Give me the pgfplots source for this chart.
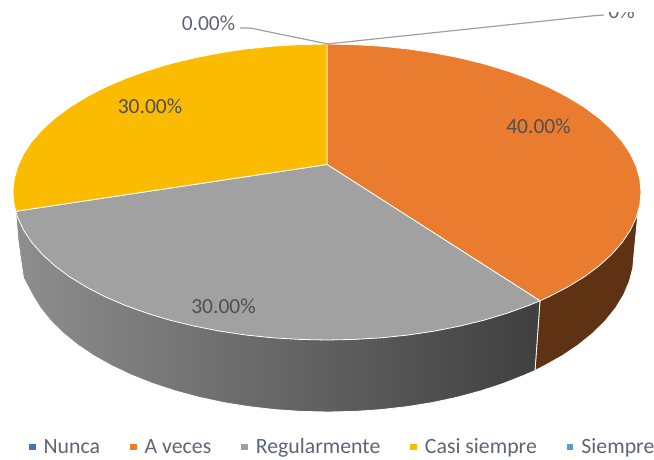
\documentclass[border=0pt]{standalone}
\usepackage{pgfplots}
\pgfplotsset{compat=1.18}
\usepackage{fontspec}
\setmainfont{Carlito}
\definecolor{cOr}{HTML}{EA7C30}
\definecolor{cGr}{HTML}{A1A1A1}
\definecolor{cYe}{HTML}{FBBB00}
\definecolor{cBr}{HTML}{5E3213}
\definecolor{cBl}{HTML}{4472C4}
\definecolor{cSk}{HTML}{5B9BD5}
\definecolor{cTx}{HTML}{505050}
\definecolor{cLg}{HTML}{5D6673}
\definecolor{cLd}{HTML}{A0A0A0}
\definecolor{gL}{HTML}{8E8E8E}
\definecolor{gM}{HTML}{626262}
\definecolor{gR}{HTML}{3F3F3F}
\begin{document}
\begin{tikzpicture}
\useasboundingbox (0,0) rectangle (654pt,459pt);
\begin{axis}[
  at={(0,0)}, anchor=south west,
  scale only axis, width=654pt, height=459pt,
  xmin=0, xmax=654, ymin=0, ymax=459, y dir=reverse,
  hide axis, no markers,
  clip=false,
  legend columns=5,
  legend cell align=left,
  legend style={at={(axis cs:29,447)}, anchor=west, draw=none, fill=none,
    inner sep=0pt, outer sep=0pt,
    font=\fontsize{21.8}{25}\selectfont\color{cLg},
    /tikz/every odd column/.style={column sep=6pt},
    /tikz/every even column/.style={column sep=28pt}},
  legend image code/.code={\path[draw=none,#1] (0pt,-3.4pt) rectangle (6.6pt,3.4pt);},
]
% side walls
\addplot[forget plot, draw=white, line width=0.8pt, fill=cBr]
 coordinates {(540,300.8)(638,212.6)(634,254)(632.8,267.8)(629.3,281.4)(623.6,294.9)(615.6,308)(605.3,320.8)(593,333)(578.7,344.6)(562.4,355.6)(544.4,365.7)(535,370.5)} -- cycle;
\addplot[forget plot, draw=white, line width=0.8pt, shade, left color=gL, middle color=gM, right color=gR]
 coordinates {(15.7,211.3)(540,300.8)(535,370.5)(524.7,375)(503.5,383.4)(481,390.8)(457.3,397.2)(432.7,402.5)(407.2,406.6)(381.1,409.6)(354.7,411.4)(328,412)(301.3,411.4)(274.9,409.6)(248.8,406.6)(223.3,402.5)(198.7,397.2)(175,390.8)(152.5,383.4)(131.3,375)(111.6,365.7)(93.6,355.6)(77.3,344.6)(63,333)(50.7,320.8)(40.4,308)(32.4,294.9)(23.5,278)(20.5,258)(18,240)} -- cycle;
% top: A veces
\addplot[forget plot, fill=cOr, draw=white, line width=0.8pt]
 coordinates {(327,164.5)(327,44)(354.4,44.6)(381.5,46.2)(408.3,49)(434.4,52.9)(459.7,57.9)(484,63.8)(507.1,70.8)(528.8,78.6)(549,87.3)(567.5,96.9)(584.2,107.1)(598.9,118)(611.6,129.5)(622.1,141.4)(630.3,153.7)(636.2,166.3)(639.8,179.1)(641,192)(639.8,204.9)(636.2,217.7)(630.3,230.3)(622.1,242.6)(611.6,254.5)(598.9,266)(584.2,276.9)(567.5,287.1)(549,296.7)(540,300.8)} -- cycle;
% top: Regularmente
\addplot[forget plot, fill=cGr, draw=white, line width=0.8pt]
 coordinates {(327,164.5)(540,300.8)(528.8,305.4)(507.1,313.2)(484,320.2)(459.7,326.1)(434.4,331.1)(408.3,335)(381.5,337.8)(354.4,339.4)(327,340)(299.6,339.4)(272.5,337.8)(245.7,335)(219.6,331.1)(194.3,326.1)(170,320.2)(146.9,313.2)(125.2,305.4)(105,296.7)(86.5,287.1)(69.8,276.9)(55.1,266)(42.4,254.5)(31.9,242.6)(23.7,230.3)(17.8,217.7)(15.7,211.3)} -- cycle;
% top: Casi siempre
\addplot[forget plot, fill=cYe, draw=white, line width=0.8pt]
 coordinates {(327,164.5)(15.7,211.3)(14.2,204.9)(13,192)(14.2,179.1)(17.8,166.3)(23.7,153.7)(31.9,141.4)(42.4,129.5)(55.1,118)(69.8,107.1)(86.5,96.9)(105,87.3)(125.2,78.6)(146.9,70.8)(170,63.8)(194.3,57.9)(219.6,52.9)(245.7,49)(272.5,46.2)(299.6,44.6)(327,44)} -- cycle;
% leader lines
\addplot[forget plot, color=cLd, line width=1.2pt] coordinates {(328,44)(250,28)(240,28)};
\addplot[forget plot, color=cLd, line width=1.2pt] coordinates {(327,44)(594,15.7)(604,15)};
% legend
\addlegendimage{fill=cBl}\addlegendentry{Nunca}
\addlegendimage{fill=cOr}\addlegendentry{A veces}
\addlegendimage{fill=cGr}\addlegendentry{Regularmente}
\addlegendimage{fill=cYe}\addlegendentry{Casi siempre}
\addlegendimage{fill=cSk}\addlegendentry{Siempre}
% labels
\node[anchor=base, inner sep=0pt, font=\fontsize{21.5}{25}\selectfont, text=cTx] at (axis cs:538.5,133.5) {40.00\%};
\node[anchor=base, inner sep=0pt, font=\fontsize{21.5}{25}\selectfont, text=cTx] at (axis cs:150,113.5) {30.00\%};
\node[anchor=base, inner sep=0pt, font=\fontsize{21.5}{25}\selectfont, text=cTx] at (axis cs:223.5,313.5) {30.00\%};
\node[anchor=base, inner sep=0pt, font=\fontsize{21.5}{25}\selectfont, text=cLg] at (axis cs:208.5,30.5) {0.00\%};
\node[anchor=base, inner sep=0pt, font=\fontsize{21.5}{25}\selectfont, text=cLg] at (axis cs:621.5,18) {0\%};
\fill[white] (axis cs:605,-2) rectangle (axis cs:654,11.5);
\end{axis}
\end{tikzpicture}
\end{document}
